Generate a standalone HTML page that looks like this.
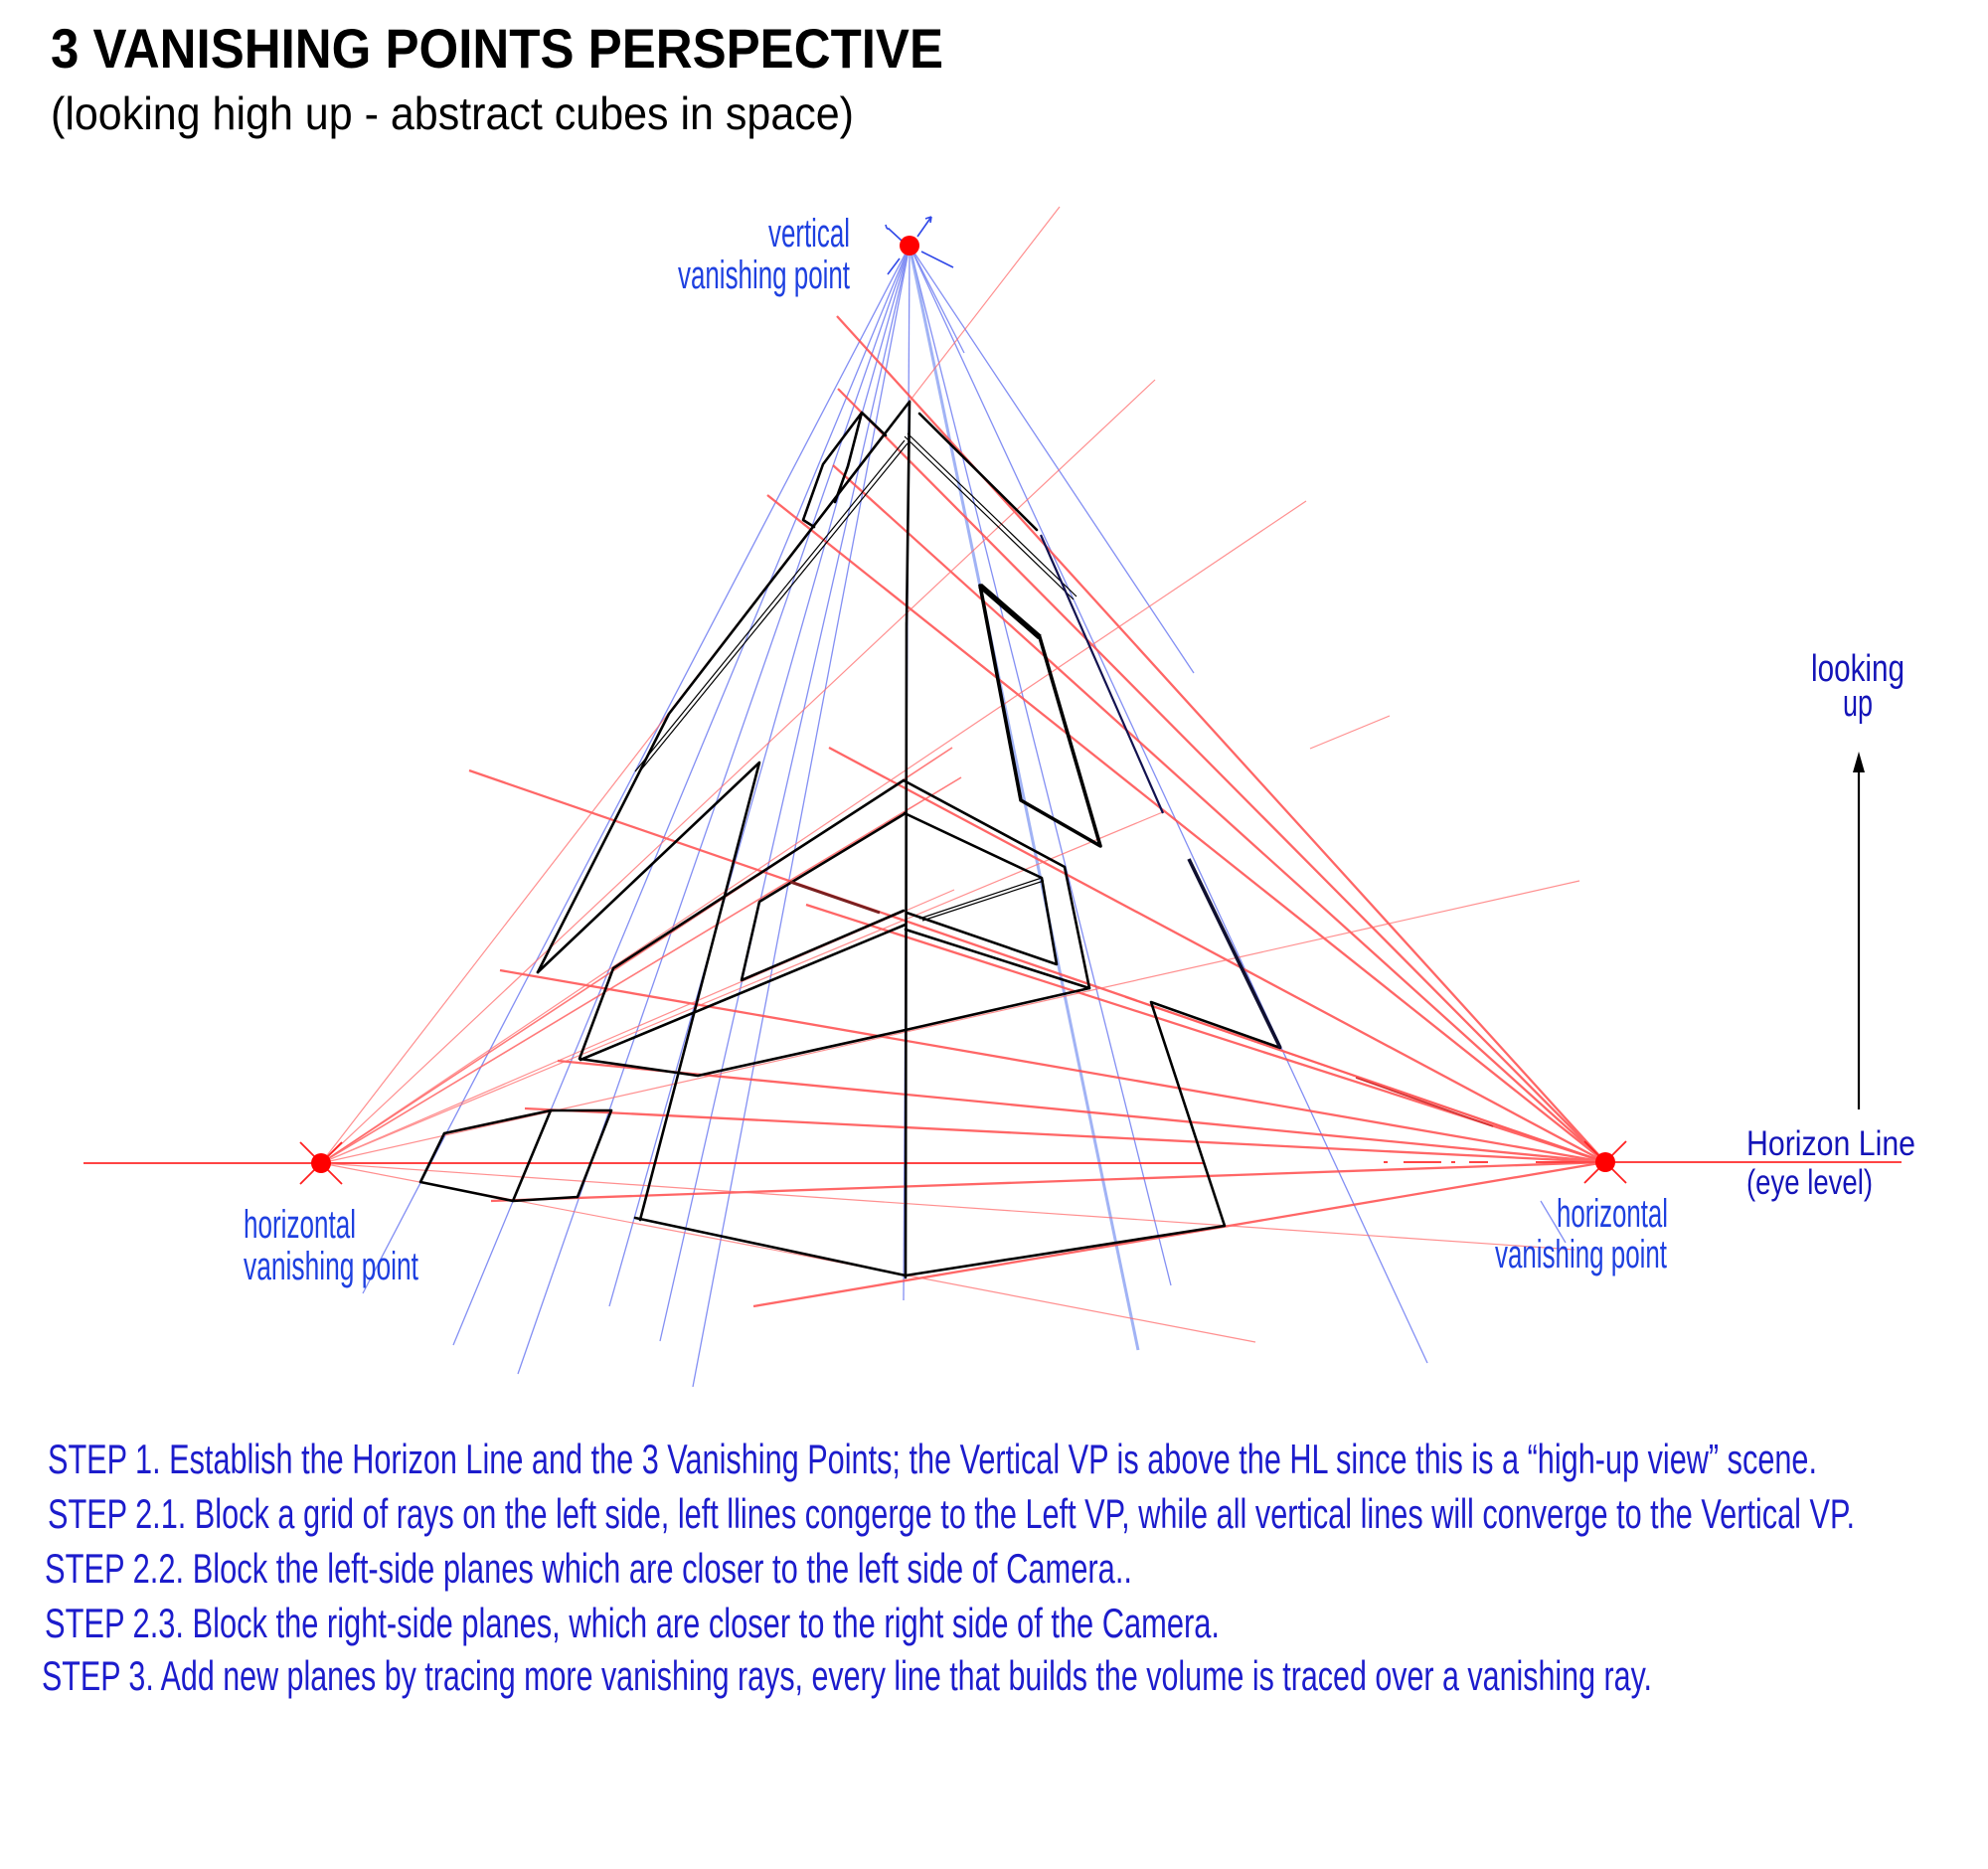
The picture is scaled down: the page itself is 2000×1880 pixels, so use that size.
<!DOCTYPE html>
<html><head><meta charset="utf-8"><style>
html,body{margin:0;padding:0;background:#fff;}
svg{display:block;}
text{font-family:"Liberation Sans",sans-serif;}
</style></head><body>
<svg width="2000" height="1880" viewBox="0 0 2000 1880" xmlns="http://www.w3.org/2000/svg">
<rect width="2000" height="1880" fill="#fff"/>

<!-- Titles -->
<text x="51" y="68" font-size="56" font-weight="bold" fill="#000" textLength="898" lengthAdjust="spacingAndGlyphs">3 VANISHING POINTS PERSPECTIVE</text>
<text x="51" y="130" font-size="46" fill="#000" textLength="808" lengthAdjust="spacingAndGlyphs">(looking high up - abstract cubes in space)</text>

<!-- Blue rays from vertical VP -->
<g stroke="#5a6af0" stroke-width="1.3" opacity="0.75" fill="none">
<path d="M915,247 L365,1301"/>
<path d="M915,247 L456,1353"/>
<path d="M915,247 L521,1382"/>
<path d="M915,247 L613,1314"/>
<path d="M915,247 L664,1349"/>
<path d="M915,247 L697,1395"/>
<path d="M915,247 L909,1308"/>
<path d="M915,247 L1178,1293"/>
<path d="M915,247 L1436,1371"/>
<path d="M915,247 L1201,677"/>
<path d="M915,247 L970,355"/>
<path d="M1550,1208 L1575,1250"/>
</g>
<path d="M915,247 L1145,1358" stroke="#8aa0f2" stroke-width="3" fill="none" opacity="0.8"/>
<!-- blue ticks at VVP -->
<g stroke="#3048e8" stroke-width="1.6" fill="none">
<path d="M891,226 Q892,231 894,230 L907,242"/>
<path d="M937,218 L923,238 M937,218 L931,220 M937,218 L936,224"/>
<path d="M927,253 L959,269"/>
<path d="M905,260 L893,276"/>
</g>

<!-- Horizon -->
<g stroke="#ff2a2a" stroke-width="1.8" fill="none">
<path d="M84,1170 L1211,1170"/>
<path d="M1545,1169 L1913,1169"/>
<path d="M1392,1169 L1396,1169 M1412,1169 L1450,1169 M1460,1169 L1464,1169 M1478,1169 L1497,1169"/>
</g>

<!-- Red rays to right VP (thick) -->
<g stroke="#ff4c4c" stroke-width="2.3" opacity="0.85" fill="none">
<path d="M842,318 L1615,1169"/>
<path d="M843,391 L1615,1169"/>
<path d="M838,468 L1615,1169"/>
<path d="M772,498 L1615,1169"/>
<path d="M834,752 L1615,1169"/>
<path d="M472,775 L1615,1169"/>
<path d="M811,910 L1615,1169"/>
<path d="M503,976 L1615,1169"/>
<path d="M561,1067 L1615,1169"/>
<path d="M528,1115 L1615,1169"/>
<path d="M494,1208 L1615,1169"/>
<path d="M758,1314 L1615,1169"/>
</g>
<path d="M1132,1003 L1615,1169" stroke="#ff5a5a" stroke-width="1.6" opacity="0.8" fill="none"/>
<path d="M1364,1084 L1502,1133" stroke="#d03030" stroke-width="1.6" fill="none"/>

<!-- Red rays from left VP (thin) -->
<g stroke="#ff6a6a" stroke-width="1.2" opacity="0.75" fill="none">
<path d="M323,1170 L1066,208"/>
<path d="M323,1170 L1162,382"/>
<path d="M323,1170 L1314,504"/>
<path d="M323,1170 L960,895"/>
<path d="M323,1170 L1172,816"/>
<path d="M323,1170 L1589,886"/>
<path d="M323,1170 L1584,1257"/>
<path d="M323,1170 L1263,1350"/>
<path d="M1318,753 L1398,720"/>
</g>
<g stroke="#ff5a5a" stroke-width="1.6" opacity="0.8" fill="none">
<path d="M323,1170 L958,752"/>
<path d="M323,1170 L967,782"/>
</g>

<!-- Black construction -->
<g stroke="#000" stroke-width="2.6" fill="none" stroke-linejoin="round" stroke-linecap="round">
<path d="M915,404 L912,630 M912,626 L911,1285"/>
<path d="M915,404 L673,718 L541,978"/>
<path d="M925,416 L1043,533"/>
<path d="M867,415 L853,469 L840,505 M867,415 L828,467 L808,523 L819,530 M867,415 L891,438"/>
<path d="M909,785 L617,974 L583,1065 L702,1082 L911,1036 L1096,994 L1071,872 L909,785"/>
<path d="M911,818 L764,907 L746,986 L909,916"/>
<path d="M910,818 L1048,883 L1063,970 L912,918"/>
<path d="M911,930 L584,1066"/>
<path d="M911,935 L1096,994"/>
<path d="M541,978 L764,767 L644,1227"/>
<path d="M639,1225 L911,1283 L1232,1233 L1158,1008 L1288,1054"/>
<path d="M447,1140 L554,1117 L615,1117 M447,1140 L423,1189 L516,1208 L581,1204 M554,1117 L516,1208 M615,1117 L581,1204"/>
</g>
<g stroke="#000" stroke-width="1.2" fill="none">
<path d="M913,446 L642,778"/>
<path d="M910,443 L639,776"/>
<path d="M910,439 L1080,603"/>
<path d="M913,436 L1083,600"/>
<path d="M925,924 L1048,883"/>
<path d="M928,926 L1050,886"/>
</g>
<path d="M986,589 L1046,641 L1107,851 L1027,805 Z" stroke="#000" stroke-width="3.6" fill="none" stroke-linejoin="round"/>
<path d="M986,589 L1046,641" stroke="#000" stroke-width="5.5" fill="none"/>
<path d="M1047,538 L1170,818" stroke="#121250" stroke-width="2.2" fill="none"/>
<path d="M1196,864 L1288,1054" stroke="#101030" stroke-width="3.6" fill="none"/>
<path d="M795,887 L885,918" stroke="#7a2020" stroke-width="3" fill="none"/>

<!-- Vanishing points -->
<g stroke="#ff2020" stroke-width="1.8">
<path d="M302,1149 L344,1191 M344,1149 L302,1191"/>
<path d="M1594,1148 L1636,1190 M1636,1148 L1594,1190"/>
</g>
<circle cx="915" cy="247" r="10" fill="#ff0000"/>
<circle cx="323" cy="1170" r="10" fill="#ff0000"/>
<circle cx="1615" cy="1169" r="10" fill="#ff0000"/>

<!-- Labels -->
<g fill="#1e40e0" font-size="40">
<text x="773" y="248" textLength="82" lengthAdjust="spacingAndGlyphs">vertical</text>
<text x="682" y="290" textLength="173" lengthAdjust="spacingAndGlyphs">vanishing point</text>
<text x="245" y="1245" textLength="113" lengthAdjust="spacingAndGlyphs">horizontal</text>
<text x="245" y="1287" textLength="176" lengthAdjust="spacingAndGlyphs">vanishing point</text>
<text x="1566" y="1234" textLength="112" lengthAdjust="spacingAndGlyphs">horizontal</text>
<text x="1504" y="1275" textLength="173" lengthAdjust="spacingAndGlyphs">vanishing point</text>
</g>
<g fill="#1414b8">
<text x="1757" y="1162" font-size="35" textLength="170" lengthAdjust="spacingAndGlyphs">Horizon Line</text>
<text x="1757" y="1201" font-size="35" textLength="127" lengthAdjust="spacingAndGlyphs">(eye level)</text>
<text x="1822" y="685" font-size="38" textLength="94" lengthAdjust="spacingAndGlyphs">looking</text>
<text x="1854" y="720" font-size="38" textLength="30" lengthAdjust="spacingAndGlyphs">up</text>
</g>
<path d="M1870,1116 L1870,772" stroke="#000" stroke-width="2.2"/>
<polygon points="1870,756 1864,777 1876,777" fill="#000"/>

<!-- Steps -->
<g fill="#1c1ccc" font-size="42">
<text x="48" y="1482" textLength="1780" lengthAdjust="spacingAndGlyphs">STEP 1. Establish the Horizon Line and the 3 Vanishing Points; the Vertical VP is above the HL since this is a “high-up view” scene.</text>
<text x="48" y="1537" textLength="1818" lengthAdjust="spacingAndGlyphs">STEP 2.1. Block a grid of rays on the left side, left llines congerge to the Left VP,  while all vertical lines will converge to the Vertical VP.</text>
<text x="45" y="1592" textLength="1094" lengthAdjust="spacingAndGlyphs">STEP 2.2. Block the left-side planes which are closer to the left side of Camera..</text>
<text x="45" y="1647" textLength="1182" lengthAdjust="spacingAndGlyphs">STEP 2.3. Block the right-side planes, which are closer to the right side of the Camera.</text>
<text x="42" y="1700" textLength="1620" lengthAdjust="spacingAndGlyphs">STEP 3. Add new planes by tracing more vanishing rays, every line that builds the volume is traced over a vanishing ray.</text>
</g>
</svg>
</body></html>
